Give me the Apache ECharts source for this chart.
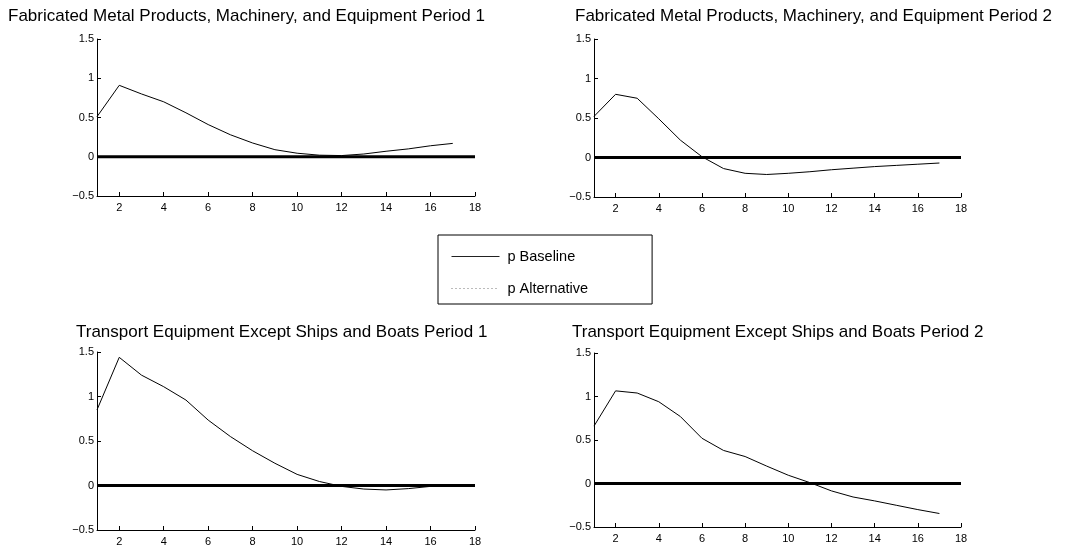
<!DOCTYPE html>
<html>
<head>
<meta charset="utf-8">
<script src="https://cdn.jsdelivr.net/npm/echarts@6/dist/echarts.min.js"></script>
<style>
html,body{margin:0;padding:0;background:#fff;}
#chart{width:1071px;height:549px;}
</style>
</head>
<body>
<div id="chart"></div>
<script>
// ---- data ----
var periods = [1,2,3,4,5,6,7,8,9,10,11,12,13,14,15,16,17];
var xTicks = [2,4,6,8,10,12,14,16,18];
var yTicks = [-0.5,0,0.5,1,1.5];
var zeroLine = [[1,0],[18,0]];
var titles = [
  "Fabricated Metal Products, Machinery, and Equipment Period 1",
  "Fabricated Metal Products, Machinery, and Equipment Period 2",
  "Transport Equipment Except Ships and Boats Period 1",
  "Transport Equipment Except Ships and Boats Period 2"
];
var fabP1 = [0.51,0.91,0.80,0.70,0.56,0.41,0.28,0.175,0.09,0.045,0.02,0.015,0.035,0.07,0.10,0.14,0.17];
var fabP2 = [0.52,0.80,0.75,0.49,0.22,0.01,-0.14,-0.20,-0.215,-0.20,-0.18,-0.155,-0.135,-0.115,-0.10,-0.085,-0.07];
var trP1 = [0.85,1.44,1.24,1.11,0.96,0.735,0.55,0.39,0.25,0.125,0.045,-0.01,-0.04,-0.05,-0.035,-0.01,0.01];
var trP2 = [0.66,1.065,1.04,0.94,0.77,0.52,0.38,0.31,0.20,0.095,0.01,-0.085,-0.155,-0.20,-0.25,-0.30,-0.345];
var altP1 = [], altP2 = [], altP3 = [], altP4 = [];
var baseline = [fabP1, fabP2, trP1, trP2];
var alternative = [altP1, altP2, altP3, altP4];

// ---- layout ----
var grids = [
  {left:97, top:39, width:378, height:157},
  {left:594, top:39, width:367, height:158},
  {left:97, top:352, width:378, height:178},
  {left:594, top:353, width:367, height:174}
];
var titlePos = [
  {left:8, top:8},
  {left:575, top:8},
  {left:76, top:324},
  {left:572, top:324}
];
var FONT = 'Liberation Sans, Arial, Helvetica, sans-serif';

function pairs(xs, ys){ return ys.map(function(v,i){ return [xs[i], v]; }); }

var option = {
  backgroundColor:'#fff',
  animation:false,
  title: titles.map(function(t,i){
    return {text:t, left:titlePos[i].left, top:titlePos[i].top, padding:0,
      textStyle:{fontFamily:FONT, fontSize:17, fontWeight:'normal', color:'#000'}};
  }),
  legend:{
    orient:'vertical', left:438, top:235,
    data:[
      {name:'p Baseline', lineStyle:{width:1, color:'#222', type:'solid'}},
      {name:'p Alternative', lineStyle:{width:1, color:'#777', type:[1,3]}}
    ],
    itemWidth:48, itemHeight:13, itemGap:17,
    padding:[14,64,8,13],
    borderColor:'#000', borderWidth:1, borderRadius:0, backgroundColor:'#fff',
    itemStyle:{opacity:0},
    textStyle:{fontFamily:FONT, fontSize:14.5, color:'#000', padding:[0,0,0,3]},
    selectedMode:false
  },
  grid: grids.map(function(g){ return Object.assign({containLabel:false}, g); }),
  xAxis: grids.map(function(g,i){
    return {type:'value', gridIndex:i, min:1, max:18,
      axisLine:{onZero:false, lineStyle:{color:'#000', width:1}},
      axisTick:{inside:true, length:4, customValues:xTicks, lineStyle:{color:'#000'}},
      axisLabel:{customValues:xTicks, margin:6, fontFamily:FONT, fontSize:11, color:'#000'},
      splitLine:{show:false}};
  }),
  yAxis: grids.map(function(g,i){
    return {type:'value', gridIndex:i, min:-0.5, max:1.5, interval:0.5,
      axisLine:{show:true, onZero:false, lineStyle:{color:'#000', width:1}},
      axisTick:{show:true, inside:true, length:4, lineStyle:{color:'#000'}},
      axisLabel:{margin:3, fontFamily:FONT, fontSize:11, color:'#000',
        formatter:function(v){ return String(v).replace('-', '\u2212'); }},
      splitLine:{show:false}};
  }),
  series: []
};

for (var i=0;i<4;i++){
  option.series.push({name:'zero', type:'line', xAxisIndex:i, yAxisIndex:i,
    data:zeroLine, symbol:'none', silent:true,
    lineStyle:{color:'#000', width:3}, z:2});
  option.series.push({name:'p Baseline', type:'line', xAxisIndex:i, yAxisIndex:i,
    data:pairs(periods, baseline[i]), symbol:'none',
    lineStyle:{color:'#000', width:1}, itemStyle:{color:'#000'}, z:3});
  option.series.push({name:'p Alternative', type:'line', xAxisIndex:i, yAxisIndex:i,
    data:pairs(periods, alternative[i]), symbol:'none',
    lineStyle:{color:'#888', width:1, type:'dotted'}, itemStyle:{color:'#888'}, z:3});
}

var chart = echarts.init(document.getElementById('chart'), null, {renderer:'canvas'});
chart.setOption(option);
</script>
</body>
</html>
